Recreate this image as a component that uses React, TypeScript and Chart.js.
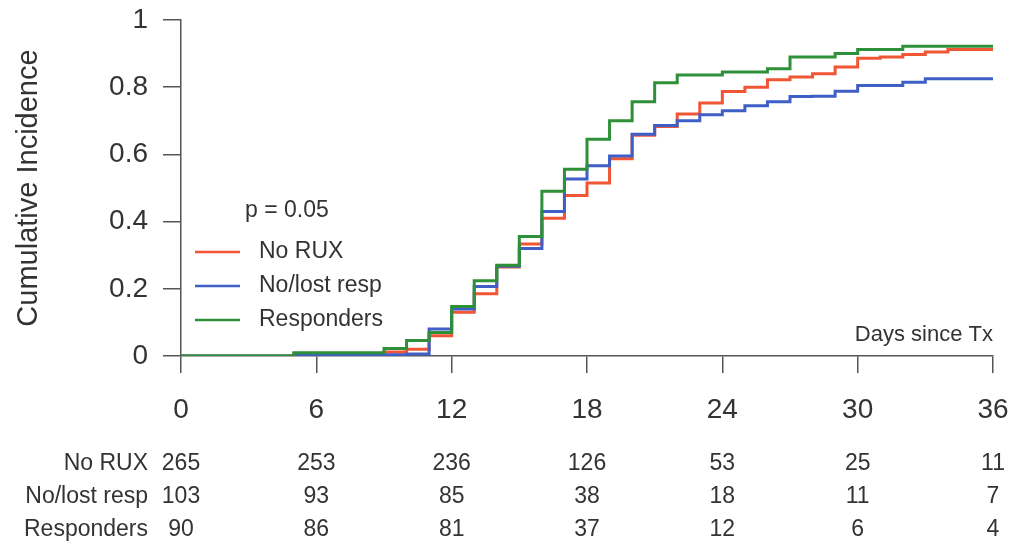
import React, { useEffect, useRef } from "react";
import { Chart, registerables } from "chart.js";

Chart.register(...registerables);

const days = [0, 1, 2, 3, 4, 5, 6, 7, 8, 9, 10, 11, 12, 13, 14, 15, 16, 17, 18, 19, 20, 21, 22, 23, 24, 25, 26, 27, 28, 29, 30, 31, 32, 33, 34, 35, 36];

const noRux = [0, 0, 0, 0, 0, 0.004, 0.004, 0.004, 0.004, 0.012, 0.02, 0.06, 0.13, 0.185, 0.265, 0.333, 0.41, 0.478, 0.515, 0.587, 0.657, 0.683, 0.72, 0.753, 0.787, 0.8, 0.822, 0.83, 0.84, 0.86, 0.886, 0.89, 0.897, 0.905, 0.912, 0.912, 0.912];

const noLostResp = [0, 0, 0, 0, 0, 0.004, 0.004, 0.004, 0.004, 0.004, 0.006, 0.08, 0.14, 0.207, 0.267, 0.32, 0.43, 0.527, 0.566, 0.595, 0.66, 0.686, 0.7, 0.718, 0.73, 0.745, 0.757, 0.772, 0.773, 0.788, 0.805, 0.805, 0.815, 0.825, 0.825, 0.825, 0.825];

const responders = [0, 0, 0, 0, 0, 0.01, 0.01, 0.01, 0.01, 0.022, 0.046, 0.07, 0.147, 0.224, 0.27, 0.356, 0.49, 0.556, 0.645, 0.7, 0.757, 0.813, 0.836, 0.836, 0.845, 0.845, 0.855, 0.89, 0.89, 0.9, 0.912, 0.912, 0.922, 0.922, 0.922, 0.922, 0.922];

const seriesNames = ["No RUX", "No/lost resp", "Responders"];
const seriesColors = ["#F15634", "#3F5FC6", "#2E9038"];

const xTicks = [0, 6, 12, 18, 24, 30, 36];
const yTicks = [0, 0.2, 0.4, 0.6, 0.8, 1];

const riskTimes = [0, 6, 12, 18, 24, 30, 36];
const riskNoRux = [265, 253, 236, 126, 53, 25, 11];
const riskNoLostResp = [103, 93, 85, 38, 18, 11, 7];
const riskResponders = [90, 86, 81, 37, 12, 6, 4];

const yTitle = "Cumulative Incidence";
const xNote = "Days since Tx";
const pText = "p = 0.05";

const FONT = '"Liberation Sans", Arial, Helvetica, sans-serif';
const TEXT = "#333333";
const AXIS = "#555555";

export default function App() {
  const ref = useRef<HTMLCanvasElement | null>(null);

  useEffect(() => {
    const canvas = ref.current;
    if (!canvas) return;

    const toPts = (vals: number[]) => days.map((d, i) => ({ x: d, y: vals[i] }));

    const extras = {
      id: "extras",
      afterDraw(chart: any) {
        const ctx = chart.ctx as CanvasRenderingContext2D;
        const xs = chart.scales.x;
        const area = chart.chartArea;
        ctx.save();
        ctx.fillStyle = TEXT;

        // y title
        ctx.save();
        ctx.translate(29, (area.top + area.bottom) / 2);
        ctx.rotate(-Math.PI / 2);
        ctx.font = `29px ${FONT}`;
        ctx.textAlign = "center";
        ctx.textBaseline = "middle";
        ctx.fillText(yTitle, 0, 0);
        ctx.restore();

        // p value
        ctx.font = `23px ${FONT}`;
        ctx.textAlign = "left";
        ctx.textBaseline = "middle";
        ctx.fillText(pText, 245, 211);

        // legend
        const legY = [252, 286, 320];
        seriesNames.forEach((name, i) => {
          ctx.strokeStyle = seriesColors[i];
          ctx.lineWidth = 2.5;
          ctx.beginPath();
          ctx.moveTo(195, legY[i]);
          ctx.lineTo(240, legY[i]);
          ctx.stroke();
          ctx.fillStyle = TEXT;
          ctx.fillText(name, 259, legY[i]);
        });

        // x note
        ctx.textAlign = "right";
        ctx.font = `22px ${FONT}`;
        ctx.fillText(xNote, area.right, 335);

        // risk table
        const rows = [riskNoRux, riskNoLostResp, riskResponders];
        const rowY = [464, 497, 530];
        ctx.font = `23px ${FONT}`;
        rows.forEach((row, r) => {
          ctx.textAlign = "right";
          ctx.fillText(seriesNames[r], 148, rowY[r]);
          ctx.textAlign = "center";
          row.forEach((v, j) => {
            ctx.fillText(String(v), xs.getPixelForValue(riskTimes[j]), rowY[r]);
          });
        });
        ctx.restore();
      },
    };

    const chart = new Chart(canvas, {
      type: "line",
      data: {
        datasets: [
          { label: seriesNames[0], data: toPts(noRux), borderColor: seriesColors[0], order: 2 },
          { label: seriesNames[1], data: toPts(noLostResp), borderColor: seriesColors[1], order: 1 },
          { label: seriesNames[2], data: toPts(responders), borderColor: seriesColors[2], order: 0 },
        ].map((d) => ({
          ...d,
          stepped: true,
          borderWidth: 3,
          pointRadius: 0,
          fill: false,
          tension: 0,
        })),
      },
      options: {
        responsive: false,
        animation: false,
        devicePixelRatio: 1,
        layout: { padding: { left: 0, right: 19, top: 20, bottom: 0 } },
        plugins: {
          legend: { display: false },
          tooltip: { enabled: false },
          title: { display: false },
        },
        scales: {
          x: {
            type: "linear",
            min: 0,
            max: 36,
            afterBuildTicks: (s: any) => {
              s.ticks = xTicks.map((v) => ({ value: v }));
            },
            afterFit: (s: any) => {
              s.height = 189;
              s.paddingLeft = 0;
              s.paddingRight = 0;
              s.paddingTop = 0;
              s.paddingBottom = 0;
            },
            ticks: {
              font: { size: 28, family: FONT },
              color: TEXT,
              padding: 20,
              maxRotation: 0,
              autoSkip: false,
              callback: (v: any) => String(v),
            },
            grid: {
              drawOnChartArea: false,
              drawTicks: true,
              tickLength: 17,
              color: AXIS,
              lineWidth: 1.5,
            },
            border: { display: true, color: AXIS, width: 1.5 },
          },
          y: {
            type: "linear",
            min: 0,
            max: 1,
            afterBuildTicks: (s: any) => {
              s.ticks = yTicks.map((v) => ({ value: v }));
            },
            afterFit: (s: any) => {
              s.width = 181;
              s.paddingLeft = 0;
              s.paddingRight = 0;
              s.paddingTop = 0;
              s.paddingBottom = 0;
            },
            ticks: {
              font: { size: 28, family: FONT },
              color: TEXT,
              padding: 15,
              autoSkip: false,
              callback: (v: any) => String(Math.round(Number(v) * 10) / 10),
            },
            grid: {
              drawOnChartArea: false,
              drawTicks: true,
              tickLength: 18,
              color: AXIS,
              lineWidth: 1.5,
            },
            border: { display: true, color: AXIS, width: 1.5 },
          },
        },
      },
      plugins: [extras],
    });

    return () => chart.destroy();
  }, []);

  return (
    <div style={{ position: "absolute", left: 0, top: 0, width: 1012, height: 545, background: "#ffffff" }}>
      <canvas ref={ref} width={1012} height={545} style={{ display: "block", width: 1012, height: 545 }} />
    </div>
  );
}
